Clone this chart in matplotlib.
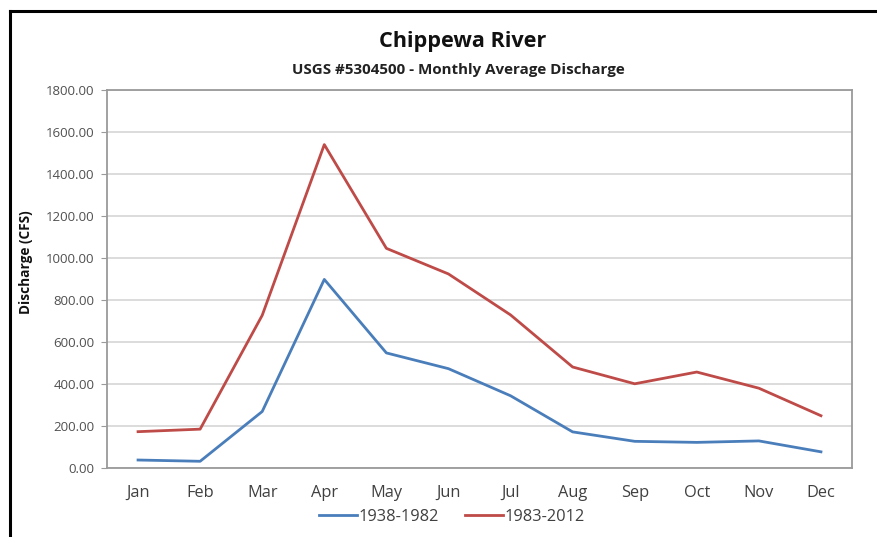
import matplotlib
matplotlib.use("Agg")
import matplotlib.pyplot as plt
from matplotlib.lines import Line2D
from matplotlib.ticker import FuncFormatter, MultipleLocator

months = ["Jan", "Feb", "Mar", "Apr", "May", "Jun", "Jul", "Aug", "Sep", "Oct", "Nov", "Dec"]
series_1938_1982 = [38, 32, 269, 898, 548, 473, 344, 172, 127, 122, 129, 77]
series_1983_2012 = [173, 185, 727, 1540, 1046, 924, 729, 481, 401, 457, 380, 249]
labels = ["1938-1982", "1983-2012"]
colors = ["#4A7EBB", "#BE4B48"]

plt.rcParams['font.family'] = ['Open Sans', 'DejaVu Sans']

fig = plt.figure(figsize=(8.78, 5.37), dpi=100)
W, H = 878, 537
ax = fig.add_axes([107 / W, 1 - 468 / H, (852 - 107) / W, (468 - 90) / H])

x = list(range(len(months)))
for vals, lab, c in zip([series_1938_1982, series_1983_2012], labels, colors):
    ax.plot(x, vals, color=c, lw=2.0, label=lab, solid_joinstyle='round')

ax.set_xlim(-0.5, 11.5)
ax.set_ylim(0, 1800)
ax.yaxis.set_major_locator(MultipleLocator(200))
ax.yaxis.set_major_formatter(FuncFormatter(lambda v, p: f"{v:.2f}"))
ax.set_xticks(x)
ax.set_xticklabels(months)
ax.grid(axis='y', color='#D9D9D9', lw=1.3)
ax.set_axisbelow(True)
for s in ax.spines.values():
    s.set_color('#9A9A9A')
    s.set_linewidth(1.3)
ax.tick_params(axis='y', length=4, color='#9A9A9A', labelsize=9.5, labelcolor='#505050', pad=5)
ax.tick_params(axis='x', length=0, labelsize=11.8, labelcolor='#404040', pad=12)
ax.set_ylabel("Discharge (CFS)", fontsize=9.8, fontweight='bold', color='#111111')
ax.yaxis.set_label_coords(-0.099, 0.545)

fig.text(463 / W, 1 - 42 / H, "Chippewa River", ha='center', va='center',
         fontsize=15.6, fontweight='bold', color='#111111')
fig.text(458 / W, 1 - 70 / H, "USGS #5304500 - Monthly Average Discharge", ha='center',
         va='center', fontsize=10.9, fontweight='bold', color='#222222')

leg = ax.legend(loc='center', bbox_to_anchor=(452 / W, 1 - 517 / H),
                bbox_transform=fig.transFigure, ncol=2, frameon=False,
                fontsize=11.8, handlelength=2.3, handletextpad=0.1, columnspacing=1.6)
for t in leg.get_texts():
    t.set_color('#404040')

# outer frame (partially cropped in the reference)
fig.add_artist(Line2D([10.5 / W, 10.5 / W], [0, 1 - 11 / H], transform=fig.transFigure,
                      color='black', lw=2.2))
fig.add_artist(Line2D([10.5 / W, 1], [1 - 11 / H, 1 - 11 / H], transform=fig.transFigure,
                      color='black', lw=2.2))

fig.savefig("out.png", dpi=100)
